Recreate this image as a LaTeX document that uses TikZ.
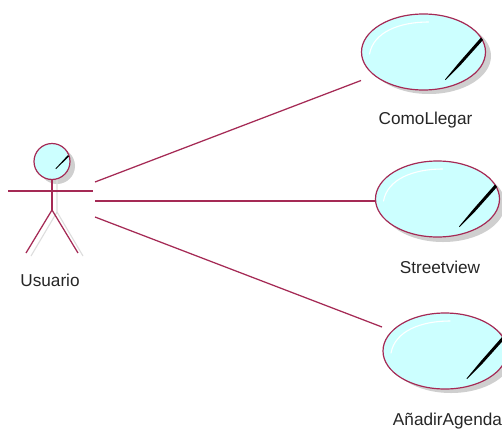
\documentclass[tikz,border=0pt]{standalone}
\usepackage{fontspec}
\setmainfont{Liberation Sans}
\definecolor{umlline}{HTML}{A52A55}
\definecolor{umlfill}{HTML}{CCFFFF}
\definecolor{umlshadow}{HTML}{CFCFCF}
\tikzset{
  case/.style={ellipse,draw=umlline,fill=umlfill,line width=1.2pt,minimum width=124pt,minimum height=76pt,inner sep=0pt},
  casesh/.style={ellipse,fill=umlshadow,minimum width=124pt,minimum height=76pt,inner sep=0pt},
  headn/.style={circle,draw=umlline,fill=umlfill,line width=1.2pt,minimum size=36pt,inner sep=0pt},
  headsh/.style={circle,fill=umlshadow,minimum size=36pt,inner sep=0pt},
  rel/.style={draw=umlline,line width=1.25pt},
  shl/.style={draw=umlshadow!70,line width=1.1pt},
  lbl/.style={font=\fontsize{17.2}{19}\selectfont,text=black!85,inner sep=0pt},
  shine/.style={draw=white,line width=1.1pt,line cap=round}
}
\usetikzlibrary{shapes.geometric}
\begin{document}
\begin{tikzpicture}[x=1pt,y=-1pt]
\useasboundingbox (0,0) rectangle (502,428);
\clip (0,0) rectangle (502,428);
\fill[white] (0,0) rectangle (502,428);
% shadows
\node[casesh] at (429,56) {};
\node[casesh] at (443,204) {};
\node[casesh] at (451,355) {};
\node[headsh] at (57,166) {};
% use cases
\node[case] (uc1) at (423.5,52) {};
\node[case] (uc2) at (437.5,199) {};
\node[case] (uc3) at (445,351) {};
\foreach \n/\x/\y in {uc1/423.5/52,uc2/437.5/199,uc3/445/351}{
  \draw[shine] (\x-54,\y+2) .. controls (\x-50,\y-20) and (\x-24,\y-30) .. (\x+5,\y-30);
  \fill[black] (\x+57.5,\y-14.5) -- (\x+59.5,\y-12) -- (\x+38,\y+12) -- (\x+22,\y+28) -- (\x+21.5,\y+27.5) -- (\x+36,\y+10) -- cycle;
}
% actor shadow
\draw[shl] (57,178) -- (57,212) -- (31,256);
\draw[shl] (57,212) -- (83,256);
% actor
\node[headn] (head) at (52,161.5) {};
\coordinate (hip) at (52,210);
\coordinate (armL) at (8,190.9);
\coordinate (armR) at (93,190.9);
\coordinate (legL) at (26,253);
\coordinate (legR) at (78,253);
\draw[rel] (head.south) -- (hip);
\draw[rel] (armL) -- (armR);
\draw[rel] (legL) -- (hip) -- (legR);
\fill[black] (68,155) -- (69,156.5) -- (56,169) -- (55.5,168.5) -- cycle;
% connectors
\coordinate (a1) at (95,182);
\coordinate (a2) at (95,201);
\coordinate (a3) at (95,217);
\coordinate (e1) at (361,80.5);
\coordinate (e2) at (376,201);
\coordinate (e3) at (382,327);
\draw[rel] (a1) -- (e1);
\draw[rel] (a2) -- (e2);
\draw[rel] (a3) -- (e3);
% labels
\node[lbl] (l0) at (50,280) {Usuario};
\node[lbl] (l1) at (425.5,120) {ComoLlegar};
\node[lbl] (l2) at (440,267) {Streetview};
\node[lbl] (l3) at (447.5,421) {AñadirAgenda};
\end{tikzpicture}
\end{document}
